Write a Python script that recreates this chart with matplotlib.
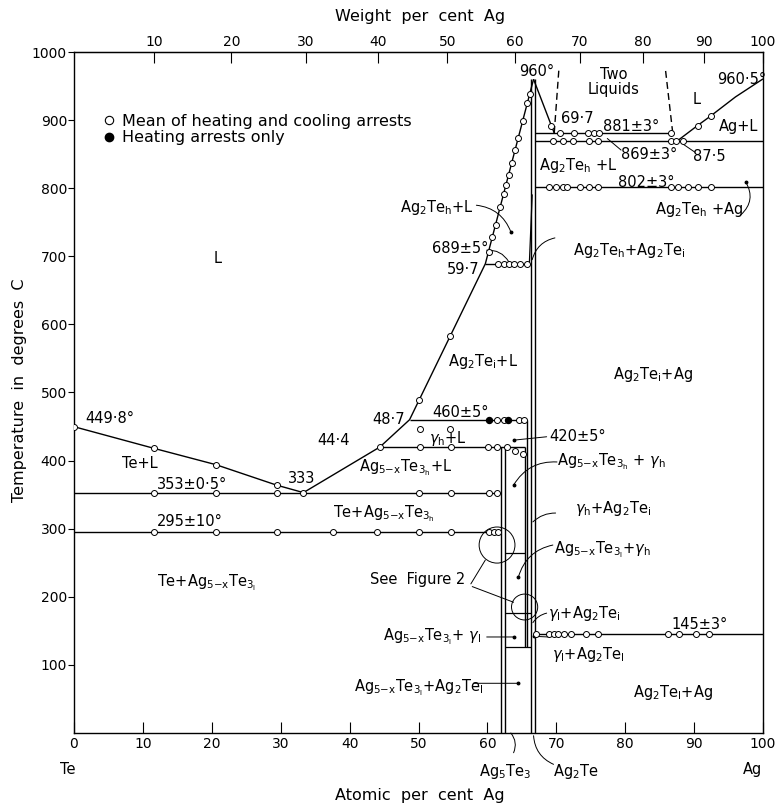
import matplotlib
matplotlib.use("Agg")
import matplotlib.pyplot as plt
from matplotlib.lines import Line2D
from matplotlib.patches import Ellipse

# Ag-Te phase diagram, x = atomic per cent Ag, y = temperature (deg C)

# liquidus branches
te_liq_x = [0, 11.6, 20.6, 29.4, 33.3]
te_liq_t = [449.8, 418, 394, 364, 353]
mid_liq_x = [33.3, 44.4, 48.7, 59.7, 66.7]
mid_liq_t = [353, 420, 460, 689, 960]
ag2te_liq_x = [66.7, 69.7]
ag2te_liq_t = [960, 881]
ag_liq_x = [87.5, 90.5, 92.4, 96.0, 100]
ag_liq_t = [869, 892, 906, 934, 960.5]

# two-liquid miscibility gap (dashed)
gap_left_x = [69.7, 70.4]
gap_left_t = [881, 978]
gap_right_x = [86.9, 85.8]
gap_right_t = [881, 978]

# invariant horizontals: temperature, start, end
inv_t = [353, 295, 420, 460, 689, 881, 869, 802, 145]
inv_x0 = [0, 0, 44.4, 48.7, 59.7, 66.9, 66.9, 66.9, 66.9]
inv_x1 = [62.0, 62.0, 65.5, 65.8, 66.3, 86.9, 100, 100, 100]

# short transition lines in the Ag5-xTe3 / gamma field
sub_t = [265, 176, 126]
sub_x0 = [62.5, 62.5, 62.5]
sub_x1 = [65.5, 66.3, 66.3]

# phase boundaries (vertical): composition, bottom, top
vert_x = [62.0, 62.5, 65.5, 65.8, 66.3, 66.9]
vert_t0 = [0, 0, 126, 126, 0, 0]
vert_t1 = [420, 420, 420, 460, 960, 960]

# Ag2Te h/i lens
lens_x = [66.1, 66.5]
lens_t = [692, 790]

# thermal arrests: mean of heating and cooling (open)
open_x = [0, 11.6, 20.6, 29.4,
          11.6, 20.6, 29.4, 33.3, 50.1, 54.7, 60.2, 61.4,
          11.6, 20.6, 29.4, 37.6, 44.0, 50.0, 54.7, 60.2, 61.0, 61.6,
          44.4, 50.2, 54.7, 60.1, 61.4, 62.8, 64.0, 65.1,
          61.4, 62.4, 64.6, 65.3, 50.2, 54.5,
          50.1, 54.6,
          60.2, 60.7, 61.2, 61.9, 62.4, 62.7, 63.1, 63.5, 64.0, 64.5, 65.1, 65.8, 66.2,
          61.6, 62.4, 63.1, 63.8, 64.8, 65.8,
          69.3, 90.5, 92.4,
          70.6, 72.5, 74.6, 75.4, 76.2, 86.6,
          69.5, 70.9, 72.4, 74.7, 76.0, 86.6, 87.4, 88.4,
          68.9, 69.9, 70.9, 71.6, 73.5, 74.7, 76.0, 86.6, 87.6, 89.1, 90.6, 92.4,
          67.0, 68.9, 69.6, 70.3, 71.1, 72.1, 74.3, 76.0, 86.2, 87.8, 90.3, 92.2]
open_t = [449.8, 418, 394, 364,
          353, 353, 353, 353, 353, 353, 353, 353,
          295, 295, 295, 295, 295, 295, 295, 295, 295, 295,
          420, 420, 420, 420, 420, 420, 414, 410,
          460, 460, 460, 460, 447, 447,
          489, 583,
          707, 729, 746, 773, 792, 805, 819, 837, 856, 873, 898, 925, 939,
          689, 689, 689, 689, 689, 689,
          891, 892, 906,
          881, 881, 881, 881, 881, 881,
          869, 869, 869, 869, 869, 869, 869, 869,
          802, 802, 802, 802, 802, 802, 802, 802, 802, 802, 802, 802,
          145, 145, 145, 145, 145, 145, 145, 145, 145, 145, 145, 145]

# heating arrests only (filled)
filled_x = [60.2, 63.0]
filled_t = [460, 460]

# "See Figure 2" circles: centre x, centre t
fig2_x = [61.4, 65.4]
fig2_t = [276, 185]

wt_ticks = [10, 20, 30, 40, 50, 60, 70, 80, 90, 100]
t_ticks = [100, 200, 300, 400, 500, 600, 700, 800, 900, 1000]
at_ticks = [0, 10, 20, 30, 40, 50, 60, 70, 80, 90, 100]

AG, TE = 107.87, 127.6


def at_to_wt(a):
    return 100 * a * AG / (a * AG + (100 - a) * TE)


def wt_to_at(w):
    return 100 * (w / AG) / (w / AG + (100 - w) / TE)


A2H = r"Ag$_2$Te$_{\mathrm{h}}$"
A2I = r"Ag$_2$Te$_{\mathrm{i}}$"
A2L = r"Ag$_2$Te$_{\mathrm{l}}$"
A53H = r"Ag$_{5\mathrm{-x}}$Te$_{3_{\mathrm{h}}}$"
A53L = r"Ag$_{5\mathrm{-x}}$Te$_{3_{\mathrm{l}}}$"
GH = r"$\gamma_{\mathrm{h}}$"
GL = r"$\gamma_{\mathrm{l}}$"

labels = [
    ("L", 20.9, 697, "center"),
    ("Te+L", 9.6, 396, "center"),
    ("449·8°", 1.6, 462, "left"),
    ("353±0·5°", 12.1, 365, "left"),
    ("295±10°", 12.1, 310, "left"),
    ("333", 31.0, 374, "left"),
    ("Te+" + A53H, 45.0, 322, "center"),
    (A53H + "+L", 48.2, 390, "center"),
    (GH + "+L", 54.2, 433, "center"),
    ("44·4", 37.6, 429, "center"),
    ("48·7", 45.6, 461, "center"),
    ("460±5°", 56.1, 471, "center"),
    ("420±5°", 73.1, 435, "center"),
    (A53H + " + " + GH, 78.0, 398, "center"),
    (GH + "+" + A2I, 78.2, 330, "center"),
    (A53L + "+" + GH, 76.7, 269, "center"),
    ("See  Figure 2", 49.9, 225, "center"),
    (GL + "+" + A2I, 74.0, 176, "center"),
    ("145±3°", 90.8, 160, "center"),
    (GL + "+" + A2L, 74.6, 115, "center"),
    (A2L + "+Ag", 86.9, 60, "center"),
    (A53L + "+ " + GL, 51.9, 141, "center"),
    (A53L + "+" + A2L, 50.0, 66, "center"),
    ("Te+" + A53L, 19.3, 220, "center"),
    (A2I + "+Ag", 84.0, 526, "center"),
    (A2I + "+L", 59.4, 545, "center"),
    (A2H + "+L", 52.6, 772, "center"),
    ("689±5°", 56.0, 712, "center"),
    ("59·7", 56.5, 680, "center"),
    (A2H + "+" + A2I, 80.5, 709, "center"),
    ("960°", 67.2, 971, "center"),
    ("69·7", 73.1, 902, "center"),
    ("Two\nLiquids", 78.3, 956, "center"),
    ("L", 90.4, 930, "center"),
    ("960·5°", 96.9, 959, "center"),
    ("Ag+L", 96.4, 890, "center"),
    ("881±3°", 80.8, 890, "center"),
    ("869±3°", 83.4, 849, "center"),
    ("87·5", 92.2, 846, "center"),
    (A2H + " +L", 73.1, 834, "center"),
    ("802±3°", 83.0, 808, "center"),
    (A2H + " +Ag", 90.7, 768, "center"),
    ("Te", -0.9, -54, "center"),
    ("Ag", 98.5, -54, "center"),
    (r"Ag$_5$Te$_3$", 62.6, -56, "center"),
    (r"Ag$_2$Te", 72.8, -56, "center"),
]

# leader lines: start (x, t), end (x, t), curvature, dot at end
leaders = [
    ((58.4, 775), (63.4, 736), -0.3, True),
    ((59.9, 709), (63.1, 692), -0.3, False),
    ((69.8, 727), (66.5, 695), 0.3, False),
    ((79.4, 856), (77.4, 873), 0.0, False),
    ((90.1, 853), (88.5, 864), 0.0, False),
    ((96.8, 761), (97.5, 809), 0.4, True),
    ((68.6, 435), (63.8, 430), 0.0, True),
    ((70.1, 398), (63.8, 364), 0.3, True),
    ((69.9, 323), (66.6, 310), 0.2, False),
    ((69.5, 276), (64.5, 229), 0.3, True),
    ((68.6, 176), (66.6, 162), 0.2, False),
    ((68.9, 141), (66.7, 142), 0.0, True),
    ((59.9, 141), (63.8, 141), 0.0, True),
    ((58.0, 73), (64.4, 73), 0.0, True),
    ((63.4, 0), (63.8, -29), -0.3, False),
    ((66.7, -4), (69.6, -46), 0.3, False),
    ((57.6, 219), (59.7, 254), 0.0, False),
    ((57.8, 215), (63.8, 192), 0.0, False),
]


def main():
    plt.rcParams["font.family"] = ["DejaVu Sans"]
    plt.rcParams["mathtext.fontset"] = "dejavusans"
    plt.rcParams["font.size"] = 10

    fig = plt.figure(figsize=(7.78, 8.05), dpi=100)
    ax = fig.add_axes([74 / 778, 72 / 805, 689 / 778, 681 / 805])
    ax.set_xlim(0, 100)
    ax.set_ylim(0, 1000)

    line_kw = dict(color="black", lw=1.0, solid_capstyle="butt")
    ax.plot(te_liq_x, te_liq_t, **line_kw)
    ax.plot(mid_liq_x, mid_liq_t, **line_kw)
    ax.plot(ag2te_liq_x, ag2te_liq_t, **line_kw)
    ax.plot(ag_liq_x, ag_liq_t, **line_kw)
    ax.plot(gap_left_x, gap_left_t, color="black", lw=1.0, dashes=(5, 3))
    ax.plot(gap_right_x, gap_right_t, color="black", lw=1.0, dashes=(5, 3))
    ax.hlines(inv_t, inv_x0, inv_x1, color="black", lw=1.0)
    ax.hlines(sub_t, sub_x0, sub_x1, color="black", lw=0.9)
    ax.vlines(vert_x, vert_t0, vert_t1, color="black", lw=1.0)
    ax.plot(lens_x, lens_t, color="black", lw=0.9)

    ax.plot(open_x, open_t, ls="", marker="o", ms=4.3, mfc="white",
            mec="black", mew=0.7, zorder=4)
    ax.plot(filled_x, filled_t, ls="", marker="o", ms=4.3, mfc="black",
            mec="black", zorder=4)

    for cx, ct, w, h in zip(fig2_x, fig2_t, [5.2, 3.8], [53, 38]):
        ax.add_patch(Ellipse((cx, ct), w, h, fill=False, lw=0.7, ec="black"))

    for (x0, t0), (x1, t1), rad, dot in leaders:
        ax.annotate("", xy=(x1, t1), xytext=(x0, t0), annotation_clip=False,
                    arrowprops=dict(arrowstyle="-", lw=0.7, color="black",
                                    shrinkA=0, shrinkB=0,
                                    connectionstyle=f"arc3,rad={rad}"))
        if dot:
            ax.plot([x1], [t1], marker="o", ms=1.8, color="black", clip_on=False)

    for text, x, t, ha in labels:
        ax.text(x, t, text, ha=ha, va="center", fontsize=10.5, clip_on=False,
                linespacing=0.95)

    handles = [
        Line2D([], [], ls="", marker="o", ms=6, mfc="white", mec="black", mew=0.8),
        Line2D([], [], ls="", marker="o", ms=6, mfc="black", mec="black"),
    ]
    ax.legend(handles, ["Mean of heating and cooling arrests", "Heating arrests only"],
              loc="upper left", bbox_to_anchor=(0.03, 0.921), frameon=False,
              fontsize=11.5, handlelength=0.8, handletextpad=0.4,
              labelspacing=0.1, borderpad=0)

    ax.set_xticks(at_ticks)
    ax.set_yticks(t_ticks)
    ax.tick_params(axis="x", direction="in", length=8, width=0.8, pad=3,
                   labelsize=10)
    ax.tick_params(axis="y", direction="out", length=4, width=0.8, pad=1,
                   labelsize=10)
    for s in ax.spines.values():
        s.set_linewidth(1.0)

    top = ax.secondary_xaxis("top", functions=(at_to_wt, wt_to_at))
    top.set_xticks(wt_ticks)
    top.tick_params(direction="in", length=8, width=0.8, pad=2, labelsize=10)

    fig.text(420 / 778, 1 - 16 / 805, "Weight  per  cent  Ag", ha="center",
             va="center", fontsize=11.5)
    fig.text(420 / 778, 1 - 795 / 805, "Atomic  per  cent  Ag", ha="center",
             va="center", fontsize=11.5)
    fig.text(20 / 778, 1 - 390 / 805, "Temperature  in  degrees  C", ha="center",
             va="center", rotation=90, fontsize=11.5)

    fig.savefig("out.png", dpi=100)
    plt.close(fig)


if __name__ == "__main__":
    main()
